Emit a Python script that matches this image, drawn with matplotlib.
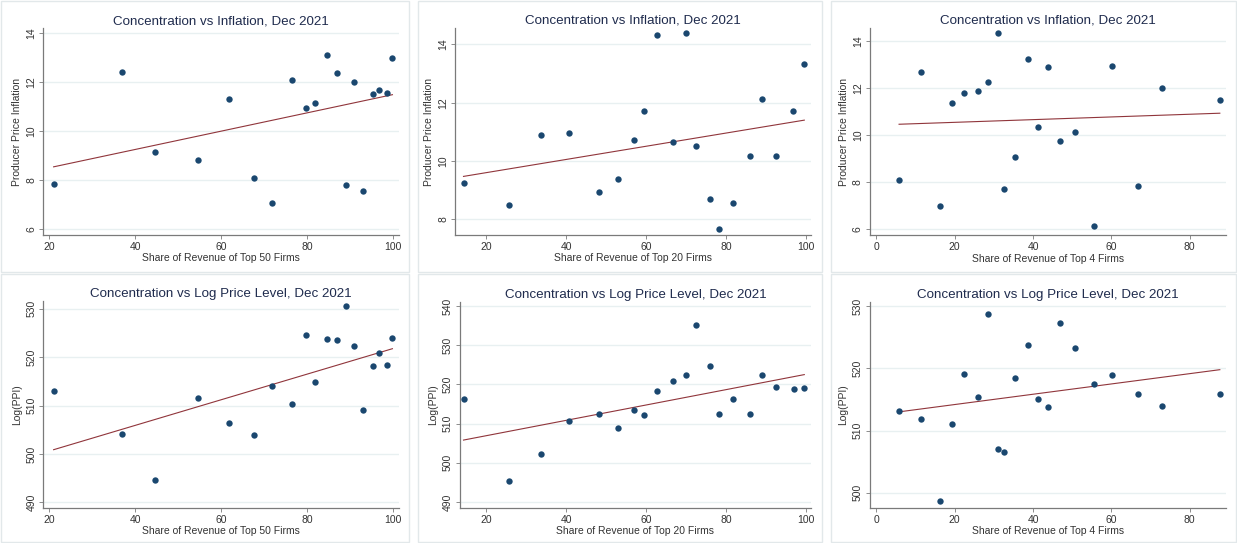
import numpy as np
import matplotlib
matplotlib.use("Agg")
import matplotlib.pyplot as plt
from matplotlib.patches import Rectangle

plt.rcParams['font.family'] = ['Liberation Sans', 'DejaVu Sans']

# share of revenue held by the top N firms, one value per industry
top50 = [21.0, 36.8, 44.5, 54.6, 61.9, 67.6, 71.9, 76.5, 79.7, 81.9,
         84.5, 86.8, 89.0, 90.8, 92.9, 95.2, 96.7, 98.5, 99.8]
top20 = [14.3, 25.6, 33.75, 40.75, 48.2, 53.0, 56.8, 59.5, 62.75, 66.6,
         69.8, 72.4, 75.8, 78.1, 81.6, 85.9, 89.0, 92.4, 96.8, 99.5]
top4 = [5.8, 11.4, 16.3, 19.2, 22.4, 25.9, 28.4, 31.0, 32.6, 35.3,
        38.6, 41.2, 43.9, 46.9, 50.7, 55.6, 60.2, 66.7, 73.0, 87.7]

# producer price inflation, Dec 2021
infl_top50 = [7.86, 12.41, 9.14, 8.84, 11.33, 8.10, 7.06, 12.10, 10.93, 11.14,
              13.10, 12.39, 7.81, 12.0, 7.56, 11.51, 11.69, 11.58, 12.97]
infl_top20 = [9.26, 8.48, 10.89, 10.96, 8.93, 9.38, 10.73, 11.71, 14.31, 10.66,
              14.40, 10.50, 8.70, 7.68, 8.57, 10.18, 12.11, 10.18, 11.73, 13.31]
infl_top4 = [8.08, 12.66, 6.97, 11.36, 11.77, 11.86, 12.25, 14.34, 7.69, 9.06,
             13.25, 10.34, 12.91, 9.75, 10.12, 6.12, 12.95, 7.84, 11.98, 11.50]

# log(PPI) level, Dec 2021
lppi_top50 = [512.9, 504.2, 494.6, 511.55, 506.3, 504.0, 514.1, 510.3, 524.5, 514.9,
              523.8, 523.5, 530.6, 522.3, 509.0, 518.2, 520.8, 518.4, 523.9]
lppi_top20 = [516.4, 495.3, 502.2, 510.7, 512.5, 508.9, 513.5, 512.2, 518.3, 520.9,
              522.4, 535.2, 524.8, 512.5, 516.2, 512.45, 522.5, 519.3, 518.9, 519.0]
lppi_top4 = [513.2, 511.9, 498.6, 511.0, 519.1, 515.4, 528.8, 507.0, 506.5, 518.4,
             523.8, 515.1, 513.8, 527.3, 523.3, 517.4, 518.9, 515.8, 513.9, 515.9]

# fitted lines as shown (intercept, slope)
fit_infl_top50 = (7.766, 0.03734)
fit_infl_top20 = (9.146, 0.02265)
fit_infl_top4 = (10.417, 0.00574)
fit_lppi_top50 = (495.32, 0.2647)
fit_lppi_top20 = (503.0, 0.196)
fit_lppi_top4 = (512.52, 0.0827)

title_infl = "Concentration vs Inflation, Dec 2021"
title_lppi = "Concentration vs Log Price Level, Dec 2021"
xlabels = ["Share of Revenue of Top 50 Firms",
           "Share of Revenue of Top 20 Firms",
           "Share of Revenue of Top 4 Firms"]
ylabel_infl = "Producer Price Inflation"
ylabel_lppi = "Log(PPI)"

navy = '#1a476f'
maroon = '#90353b'
grid_c = '#e8f0f1'
frame_c = '#e2e8ea'
W, H = 1237, 543

fig = plt.figure(figsize=(W / 100, H / 100), dpi=100)
fig.patch.set_facecolor('white')


def px_axes(l, r, t, b):
    return fig.add_axes([l / W, 1 - b / H, (r - l) / W, (b - t) / H])


# light frames around each panel
for (l, r, t, b) in [(1, 409, 1, 272), (418, 822, 1, 272), (831, 1236, 1, 272),
                     (1, 409, 274, 542), (418, 822, 274, 542), (831, 1236, 274, 542)]:
    fig.patches.append(Rectangle((l / W, 1 - b / H), (r - l) / W, (b - t) / H,
                                 transform=fig.transFigure, fill=False,
                                 edgecolor=frame_c, linewidth=1.0))

panels = [
    # x, y, fit, title, xlabel, ylabel, box(px), xlim, ylim, xticks, yticks
    (top50, infl_top50, fit_infl_top50, title_infl, xlabels[0], ylabel_infl,
     (43.3, 399.3, 28.3, 235), (18.6, 101.4), (5.77, 14.2),
     [20, 40, 60, 80, 100], [6, 8, 10, 12, 14]),
    (top20, infl_top20, fit_infl_top20, title_infl, xlabels[1], ylabel_infl,
     (455.3, 811.3, 28, 235), (12.25, 101.25), (7.46, 14.56),
     [20, 40, 60, 80, 100], [8, 10, 12, 14]),
    (top4, infl_top4, fit_infl_top4, title_infl, xlabels[2], ylabel_infl,
     (869.7, 1226.3, 28, 235.3), (-1.7, 89.35), (5.72, 14.55),
     [0, 20, 40, 60, 80], [6, 8, 10, 12, 14]),
    (top50, lppi_top50, fit_lppi_top50, title_lppi, xlabels[0], ylabel_lppi,
     (43.3, 399.3, 300.7, 507.7), (18.6, 101.4), (488.9, 531.65),
     [20, 40, 60, 80, 100], [490, 500, 510, 520, 530]),
    (top20, lppi_top20, fit_lppi_top20, title_lppi, xlabels[1], ylabel_lppi,
     (459.7, 811.3, 301.7, 507.7), (13.35, 101.25), (488.55, 541.1),
     [20, 40, 60, 80, 100], [490, 500, 510, 520, 530, 540]),
    (top4, lppi_top4, fit_lppi_top4, title_lppi, xlabels[2], ylabel_lppi,
     (869.7, 1226.3, 302.3, 507.7), (-1.7, 89.35), (497.6, 530.6),
     [0, 20, 40, 60, 80], [500, 510, 520, 530]),
]

for x, y, fit, title, xl, yl, box, xlim, ylim, xt, yt in panels:
    ax = px_axes(*box)
    x = np.asarray(x)
    y = np.asarray(y)
    ax.scatter(x, y, s=21, color=navy, zorder=3, linewidths=0)
    # fitted line over the observed range
    b0, b1 = fit
    xs = np.array([x.min(), x.max()])
    ax.plot(xs, b0 + b1 * xs, color=maroon, lw=0.8, zorder=2)

    ax.set_xlim(*xlim)
    ax.set_ylim(*ylim)
    ax.set_xticks(xt)
    ax.set_yticks(yt)
    ax.grid(axis='y', color=grid_c, lw=1.0)
    ax.set_axisbelow(True)
    for s in ['top', 'right']:
        ax.spines[s].set_visible(False)
    for s in ['left', 'bottom']:
        ax.spines[s].set_color('#7a7a7a')
        ax.spines[s].set_linewidth(0.9)
    ax.tick_params(length=3, width=0.6, color='#7a7a7a', labelsize=7.5,
                   labelcolor='#333333', pad=2)
    for lab in ax.get_yticklabels():
        lab.set_rotation(90)
        lab.set_va('center')
    ax.set_title(title, fontsize=9.6, color='#1f2b4d', pad=3)
    ax.set_xlabel(xl, fontsize=7.5, color='#333333', labelpad=1)
    ax.set_ylabel(yl, fontsize=7.5, color='#333333', labelpad=3)

fig.savefig('out.png', dpi=100, facecolor='white')
